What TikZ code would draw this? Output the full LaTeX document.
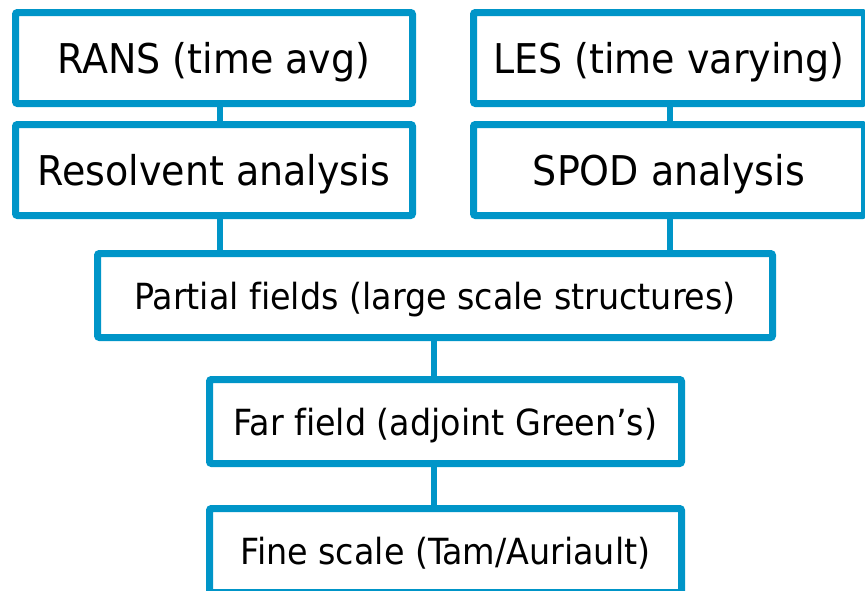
\documentclass[tikz,border=0pt]{standalone}
\usepackage{fontspec}
\setmainfont[FakeStretch=1.03,Ligatures=NoCommon]{DejaVu Sans Condensed}
\definecolor{boxblue}{HTML}{0095C8}
\begin{document}
\begin{tikzpicture}[x=1pt,y=-1pt,
  box/.style={draw=boxblue,line width=7pt,rounded corners=2pt,fill=white,
    inner sep=0pt,outer sep=0pt,text=black},
  topbox/.style={box,font=\fontsize{41}{45}\selectfont,text height=31pt,text depth=0pt},
  lowbox/.style={box,font=\fontsize{36}{40}\selectfont,text height=27pt,text depth=0pt},
  link/.style={draw=boxblue,line width=6pt}]
\useasboundingbox (0,0) rectangle (865,590);
\node[topbox,minimum width=397pt,minimum height=91pt] (rans) at (214,58) {RANS (time avg)};
\node[topbox,minimum width=397pt,minimum height=91pt] (res) at (214,170) {Resolvent analysis};
\node[topbox,minimum width=391pt,minimum height=91pt] (les) at (669,58) {LES (time varying)};
\node[topbox,minimum width=391pt,minimum height=91pt] (spod) at (669,170) {SPOD analysis};
\node[lowbox,minimum width=675pt,minimum height=84pt] (part) at (435,295.5) {Partial fields (large scale structures)};
\node[lowbox,minimum width=472pt,minimum height=84pt] (far) at (445.5,421.5) {Far field (adjoint Green’s)};
\node[lowbox,minimum width=472pt,minimum height=84pt] (fine) at (445.5,550.5) {Fine scale (Tam/Auriault)};
\draw[link] ([xshift=6pt]rans.south) -- ([xshift=6pt]res.north);
\draw[link] ([xshift=6pt]res.south) -- ([xshift=6pt]res.south |- part.north);
\draw[link] ([xshift=1pt]les.south) -- ([xshift=1pt]spod.north);
\draw[link] ([xshift=1pt]spod.south) -- ([xshift=1pt]spod.south |- part.north);
\draw[link] ([xshift=-1pt]part.south) -- ([xshift=-1pt]part.south |- far.north);
\draw[link] ([xshift=-1pt]part.south |- far.south) -- ([xshift=-1pt]part.south |- fine.north);
\end{tikzpicture}
\end{document}
